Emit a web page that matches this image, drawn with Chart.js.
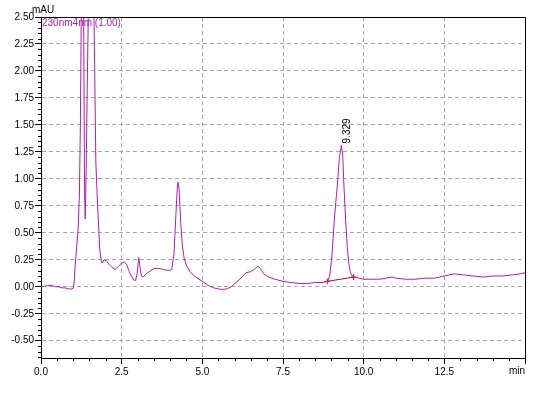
<!DOCTYPE html>
<html>
<head>
<meta charset="utf-8">
<script src="https://cdn.jsdelivr.net/npm/chart.js@4/dist/chart.umd.min.js"></script>
<style>
  html, body { margin: 0; padding: 0; background: #fff; }
  #wrap { width: 551px; height: 403px; position: relative; }
</style>
</head>
<body>
<div id="wrap"><canvas id="chrom"></canvas></div>
<script>
// chromatogram trace (time in min, absorbance in mAU)
const times = [0.00, 0.10, 0.20, 0.28, 0.35, 0.45, 0.55, 0.65, 0.75, 0.85, 0.95, 1.00,
  1.03, 1.06, 1.10, 1.15, 1.19, 1.22, 1.25, 1.29, 1.32, 1.35, 1.37, 1.40, 1.44, 1.48,
  1.55, 1.62, 1.66, 1.70, 1.74, 1.78, 1.82, 1.86, 1.90, 1.95, 2.03, 2.10, 2.20, 2.30,
  2.40, 2.50, 2.58, 2.65, 2.72, 2.80, 2.88, 2.93, 2.98, 3.03, 3.07, 3.11, 3.17, 3.25,
  3.35, 3.50, 3.65, 3.80, 3.95, 4.05, 4.12, 4.17, 4.22, 4.25, 4.28, 4.33, 4.38, 4.44,
  4.52, 4.62, 4.75, 4.90, 5.05, 5.20, 5.35, 5.50, 5.60, 5.75, 5.90, 6.05, 6.20, 6.35,
  6.50, 6.60, 6.72, 6.80, 6.90, 7.05, 7.25, 7.50, 7.75, 8.00, 8.25, 8.50, 8.75, 8.88,
  8.95, 9.02, 9.09, 9.18, 9.25, 9.31, 9.35, 9.39, 9.44, 9.49, 9.54, 9.59, 9.65, 9.72,
  9.85, 10.0, 10.25, 10.5, 10.7, 10.88, 11.0, 11.3, 11.6, 11.9, 12.2, 12.5, 12.8, 13.1,
  13.4, 13.7, 14.0, 14.3, 14.6, 14.85, 15.0];
const signal = [0.00, 0.005, 0.01, 0.015, 0.01, 0.00, 0.00, -0.01, -0.01, -0.02, -0.02, -0.015,
  0.05, 0.20, 0.35, 0.53, 0.85, 1.5, 2.6, 3.2, 2.6, 0.9, 0.63, 1.1, 2.0, 2.8,
  3.4, 3.0, 2.1, 1.15, 0.85, 0.60, 0.35, 0.25, 0.22, 0.25, 0.24, 0.21, 0.18, 0.16,
  0.19, 0.22, 0.23, 0.21, 0.15, 0.10, 0.06, 0.06, 0.12, 0.27, 0.18, 0.10, 0.09, 0.12,
  0.14, 0.17, 0.17, 0.16, 0.15, 0.16, 0.30, 0.60, 0.90, 0.97, 0.90, 0.60, 0.38, 0.26,
  0.19, 0.14, 0.10, 0.07, 0.04, 0.01, -0.01, -0.02, -0.025, -0.02, 0.00, 0.04, 0.08, 0.13,
  0.14, 0.16, 0.19, 0.17, 0.12, 0.09, 0.07, 0.05, 0.04, 0.03, 0.03, 0.04, 0.04, 0.05,
  0.10, 0.30, 0.62, 0.93, 1.20, 1.31, 1.22, 0.93, 0.62, 0.37, 0.22, 0.13, 0.10, 0.09,
  0.08, 0.07, 0.07, 0.07, 0.08, 0.09, 0.08, 0.07, 0.07, 0.08, 0.08, 0.10, 0.12, 0.11,
  0.10, 0.09, 0.10, 0.10, 0.11, 0.12, 0.13];

// integration baseline under the 9.329 peak
const baseTimes = [8.87, 9.69];
const baseValues = [0.05, 0.09];

const peakTime = 9.329;
const peakHeight = 1.31;

const xTicks = [0, 2.5, 5, 7.5, 10, 12.5, 15];
const yTicks = [-0.5, -0.25, 0, 0.25, 0.5, 0.75, 1, 1.25, 1.5, 1.75, 2, 2.25, 2.5];

const FONT = '10px "Liberation Sans", Arial, sans-serif';
const TRACE = '#b01cb0';

// frame, minor ticks, labels
const overlay = {
  id: 'overlay',
  afterDraw(chart) {
    const { ctx, chartArea: a, scales: { x, y } } = chart;
    ctx.save();
    ctx.strokeStyle = '#000';
    ctx.lineWidth = 1;
    ctx.beginPath();
    ctx.moveTo(a.left, a.top + 0.5); ctx.lineTo(a.right + 0.5, a.top + 0.5);
    ctx.lineTo(a.right + 0.5, a.bottom);
    ctx.stroke();

    // minor ticks
    ctx.beginPath();
    for (let i = 1; i < 30; i++) {
      const v = i * 0.5;
      if (xTicks.includes(v)) continue;
      const px = Math.round(x.getPixelForValue(v)) + 0.5;
      ctx.moveTo(px, a.bottom); ctx.lineTo(px, a.bottom + 3);
    }
    for (let i = -13; i <= 50; i++) {
      const v = +(i * 0.05).toFixed(2);
      if (yTicks.includes(v)) continue;
      const py = Math.round(y.getPixelForValue(v)) + 0.5;
      if (py > a.bottom || py < a.top) continue;
      ctx.moveTo(a.left - 3, py); ctx.lineTo(a.left, py);
    }
    ctx.stroke();

    ctx.font = FONT;
    ctx.fillStyle = '#000';
    ctx.textBaseline = 'alphabetic';
    ctx.textAlign = 'left';
    ctx.fillText('mAU', 32, 13);
    ctx.textAlign = 'right';
    ctx.fillText('min', a.right, 374);

    ctx.fillStyle = TRACE;
    ctx.textAlign = 'left';
    ctx.fillText('230nm4nm (1.00)', a.left + 1, a.top + 9);

    // peak label, rotated
    const px = x.getPixelForValue(peakTime) + 8;
    const py = y.getPixelForValue(peakHeight) - 2;
    ctx.translate(px, py);
    ctx.rotate(-Math.PI / 2);
    ctx.fillStyle = '#000';
    ctx.textAlign = 'left';
    ctx.fillText(peakTime.toFixed(3), 0, 0);
    ctx.restore();
  }
};

new Chart(document.getElementById('chrom'), {
  type: 'line',
  data: {
    datasets: [
      {
        data: times.map((t, i) => ({ x: t, y: signal[i] })),
        borderColor: TRACE, borderWidth: 1, pointRadius: 0, tension: 0
      },
      {
        data: baseTimes.map((t, i) => ({ x: t, y: baseValues[i] })),
        borderColor: '#a01818', borderWidth: 1, pointRadius: 3,
        pointStyle: 'cross', pointBorderColor: '#a01818', tension: 0
      }
    ]
  },
  options: {
    responsive: true, maintainAspectRatio: false, animation: false,
    layout: { padding: { top: 17, right: 26, left: 0, bottom: 0 } },
    plugins: { legend: { display: false }, tooltip: { enabled: false } },
    scales: {
      x: {
        type: 'linear', min: 0, max: 15,
        afterBuildTicks: s => { s.ticks = xTicks.map(v => ({ value: v })); },
        afterFit: s => { s.height = 45; },
        ticks: {
          color: '#000', font: { family: '"Liberation Sans", Arial, sans-serif', size: 10 },
          padding: 2, maxRotation: 0, autoSkip: false,
          callback: v => v === 15 ? '' : v.toFixed(1)
        },
        grid: { color: '#a8a8a8', tickLength: 6, tickColor: '#000', tickBorderDash: [] },
        border: { color: '#000', width: 1, dash: [4, 3] }
      },
      y: {
        min: -0.66, max: 2.5,
        afterBuildTicks: s => { s.ticks = yTicks.map(v => ({ value: v })); },
        afterFit: s => { s.width = 41; },
        ticks: {
          color: '#000', font: { family: '"Liberation Sans", Arial, sans-serif', size: 10 },
          padding: 1, autoSkip: false,
          callback: v => v.toFixed(2)
        },
        grid: { color: '#a8a8a8', tickLength: 6, tickColor: '#000', tickBorderDash: [] },
        border: { color: '#000', width: 1, dash: [4, 3] }
      }
    }
  },
  plugins: [overlay]
});
</script>
</body>
</html>
